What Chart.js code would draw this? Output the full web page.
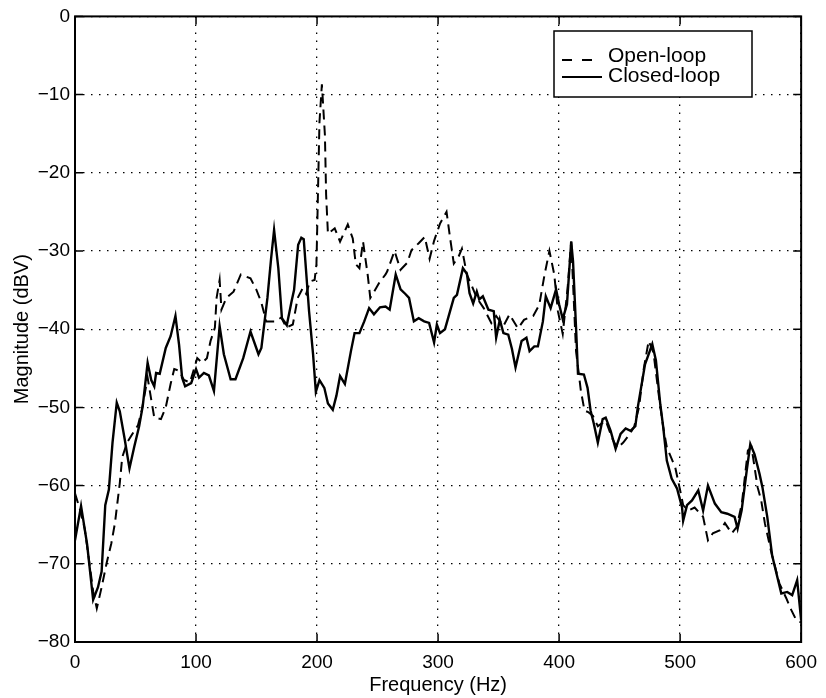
<!DOCTYPE html>
<html>
<head>
<meta charset="utf-8">
<script src="https://cdn.jsdelivr.net/npm/chart.js@4.4.1/dist/chart.umd.min.js"></script>
<style>
  html, body { margin: 0; padding: 0; background: #fff; }
  #wrap { width: 826px; height: 698px; }
</style>
</head>
<body>
<div id="wrap"><canvas id="c" width="826" height="698"></canvas></div>
<script>
// ---- data ----
const seriesLabels = ['Open-loop', 'Closed-loop'];
const xTicks = [0, 100, 200, 300, 400, 500, 600];
const yTicks = [0, -10, -20, -30, -40, -50, -60, -70, -80];

const openFreq = [
  0, 4, 8, 12, 15, 18, 22, 26, 30, 33,
  37, 39, 43, 49, 52, 55, 57, 60, 63, 65.5,
  71, 75, 79, 82, 86, 90, 95, 101, 105, 109,
  112, 115.6, 117, 119.5, 121, 125, 131, 137, 145, 150,
  154, 158, 165.5, 170.5, 174.6, 180, 184, 188, 191, 194,
  198, 199.5, 201, 202, 204, 206.5, 207.5, 209, 214.6, 219,
  225.4, 229.5, 232, 235, 238, 241.8, 244, 246, 251.6, 256.6,
  258, 264, 269, 274.6, 278, 284, 289, 293, 296.7, 301.6,
  307, 310, 313, 317, 319.7, 323.8, 328, 332, 337.7, 344,
  348, 354, 359, 366, 371, 378.6, 383.6, 388, 392, 396,
  399, 403, 407, 410, 414, 418, 421, 424, 428, 432,
  438.5, 444, 448, 453, 458, 462, 466, 470, 474, 478,
  482, 486, 489, 496, 500, 502.5, 506.6, 512, 519, 523,
  527, 533, 537, 542.6, 546.7, 551, 556, 559, 564, 567,
  570, 575, 582, 587.7, 591.8, 596, 600
];
const openMag = [
  -61, -63, -65.5, -70, -73.5, -75.7, -73, -70, -67.4, -64.8,
  -59.7, -56.4, -54.5, -53, -52.3, -50.5, -48.8, -46.2, -49, -51.3,
  -51.5, -50, -47, -45.1, -45.3, -46.5, -46.8, -43.7, -44.3, -43.7,
  -41.5, -39.8, -36, -33.7, -37.5, -36, -35.2, -33, -33.5, -35,
  -36.6, -39, -39, -38.5, -39.8, -39.4, -36, -34.8, -35.5, -33.9,
  -33.7, -31.7, -20.8, -13.5, -8.7, -15.2, -22.8, -27.8, -27.1, -28.8,
  -26.6, -28.4, -31.7, -32.2, -28.8, -33, -36, -35.5, -34, -33,
  -32.6, -30, -32.4, -31.5, -29.9, -29, -28.2, -31, -28.7, -26.5,
  -25, -28.4, -31.6, -30.7, -29.7, -33, -34.5, -36, -37.3, -39.2,
  -38.3, -39.6, -38.1, -39.9, -38.8, -38.3, -36.9, -33, -30, -33,
  -37.7, -40.6, -34.8, -28.8, -42.8, -47.9, -50.4, -50.6, -51.1, -52.4,
  -51.7, -54, -55.2, -54.5, -53.5, -52.5, -50, -45, -41.5, -43,
  -48, -52.5, -55.1, -57.7, -60.6, -62.5, -63.2, -62.8, -64, -67,
  -66.1, -65.7, -64.8, -66.1, -65.3, -62.3, -55.5, -55.1, -60.2, -61.9,
  -64.8, -68.3, -72.5, -74.4, -75.9, -77.2, -77.5
];

const closedFreq = [
  0, 5, 10, 15, 19, 22, 25, 28, 31, 34.5,
  37, 41, 45, 49, 53, 56, 60, 63, 65.5, 67,
  70, 75, 79, 83, 86, 88.5, 91, 96, 100, 102.5,
  106.5, 110.6, 114.8, 119.5, 123, 128.6, 132.6, 139, 145, 151.6,
  154, 159, 162, 164.5, 168, 171, 175, 179, 181, 184.4,
  187, 189, 193.4, 196.7, 199, 202, 206, 209, 213, 216,
  219, 223, 228, 231, 235, 239, 243, 247, 252, 256.6,
  260, 265, 269, 273, 276, 280, 284, 288.5, 292.6, 296.7,
  299, 301.6, 305.7, 313, 315.6, 320.5, 323.8, 326, 329, 332,
  334, 337, 341.6, 346, 348, 351, 354, 358, 361, 364,
  369, 373, 375.6, 379.5, 382.5, 386.6, 389, 393, 397.5, 400,
  403, 406.5, 410, 411.5, 414, 415.6, 420.5, 423.5, 426, 428.7,
  432, 436, 438.5, 442.6, 446.7, 450.8, 455, 459, 463, 465,
  471, 477, 480, 483.6, 486, 489, 493, 497.5, 501.6, 502.5,
  505.7, 509.8, 515, 519, 523, 528.7, 534, 539, 545, 547.5,
  550.8, 555, 558, 561.5, 565.6, 568, 572, 576, 583.6, 588.5,
  592.6, 596.7, 600
];
const closedMag = [
  -67, -62.6, -67.5, -74.6, -73, -71, -62.5, -60.5, -54.5, -49.4,
  -50.5, -54, -57.8, -55, -52.4, -49.8, -44.3, -46.5, -47.3, -45.6,
  -45.7, -42.4, -40.9, -38.3, -42, -46.2, -47.3, -46.9, -45.1, -46.2,
  -45.6, -45.9, -47.9, -39.6, -43.2, -46.4, -46.4, -43.7, -40.3, -43.2,
  -42.4, -36, -31, -27.3, -32.2, -38.6, -39.5, -36.4, -35, -29.2,
  -28.3, -28.5, -37.7, -43.2, -48, -46.5, -47.5, -49.5, -50.3, -48.5,
  -46, -47, -42.8, -40.5, -40.5, -39, -37.3, -38.1, -37.2, -37.1,
  -37.5, -33, -34.9, -35.5, -36, -39, -38.6, -39, -39.2, -41.7,
  -39.4, -40.5, -40, -36, -35.6, -32.2, -32.9, -35.4, -36.7, -35.2,
  -36.2, -35.8, -37.5, -37.7, -41.1, -38.8, -40.5, -40.7, -42.5, -44.9,
  -41.5, -41.1, -42.8, -42.2, -42.2, -39, -35.8, -37.3, -34.9, -36.8,
  -38.7, -36.8, -28.8, -31.3, -39.8, -45.7, -45.8, -47.5, -50.4, -52.1,
  -54.5, -51.5, -51.3, -53, -55.3, -53.4, -52.7, -53, -52.4, -50,
  -44.5, -41.9, -44, -49.6, -52.5, -56.8, -59.1, -60.4, -62.8, -64.5,
  -62.5, -61.9, -60.6, -63.2, -60, -62.3, -63.4, -63.6, -64, -65.5,
  -63.2, -58.1, -54.7, -56, -58.5, -60.2, -64, -68.9, -73.8, -73.6,
  -74, -72.1, -77.2
];

// ---- styling ----
const FONT = '"Liberation Sans", Arial, Helvetica, sans-serif';
const toPts = (xs, ys) => xs.map((x, i) => ({ x: x, y: ys[i] }));

const framePlugin = {
  id: 'framePlugin',
  afterDatasetsDraw(chart) {
    const { ctx, chartArea: a, scales } = chart;
    ctx.save();
    ctx.strokeStyle = '#000';
    ctx.lineWidth = 2;
    ctx.strokeRect(a.left, a.top, a.right - a.left, a.bottom - a.top);
    const tl = 8;
    ctx.lineWidth = 1.5;
    ctx.beginPath();
    xTicks.forEach(v => {
      const px = scales.x.getPixelForValue(v);
      ctx.moveTo(px, a.bottom); ctx.lineTo(px, a.bottom - tl);
      ctx.moveTo(px, a.top); ctx.lineTo(px, a.top + tl);
    });
    yTicks.forEach(v => {
      const py = scales.y.getPixelForValue(v);
      ctx.moveTo(a.left, py); ctx.lineTo(a.left + tl, py);
      ctx.moveTo(a.right, py); ctx.lineTo(a.right - tl, py);
    });
    ctx.stroke();

    // legend box
    const bx = 554, by = 31, bw = 198, bh = 66;
    ctx.fillStyle = '#fff';
    ctx.fillRect(bx, by, bw, bh);
    ctx.lineWidth = 1.5;
    ctx.strokeRect(bx, by, bw, bh);
    const rows = [
      { ty: 56, ly: 60, dash: [10, 10], w: 2 },
      { ty: 76, ly: 77, dash: [], w: 2.2 }
    ];
    ctx.font = '21px ' + FONT;
    ctx.textBaseline = 'middle';
    ctx.textAlign = 'left';
    ctx.fillStyle = '#000';
    rows.forEach((r, i) => {
      ctx.beginPath();
      ctx.setLineDash(r.dash);
      ctx.lineWidth = r.w;
      ctx.moveTo(562, r.ly); ctx.lineTo(602, r.ly);
      ctx.stroke();
      ctx.setLineDash([]);
      ctx.fillText(chart.data.datasets[i].label, 608, r.ty);
    });
    ctx.restore();
  }
};

const fmt = v => (v < 0 ? '\u2212' + Math.abs(v) : String(v));

new Chart(document.getElementById('c'), {
  type: 'line',
  data: {
    datasets: [
      {
        label: seriesLabels[0],
        data: toPts(openFreq, openMag),
        borderColor: '#000',
        borderWidth: 2,
        borderDash: [10, 6],
        pointRadius: 0,
        tension: 0,
        fill: false
      },
      {
        label: seriesLabels[1],
        data: toPts(closedFreq, closedMag),
        borderColor: '#000',
        borderWidth: 2.4,
        pointRadius: 0,
        tension: 0,
        fill: false
      }
    ]
  },
  options: {
    responsive: false,
    animation: false,
    events: [],
    layout: { padding: { top: 14, right: 18, left: 0, bottom: 0 } },
    plugins: { legend: { display: false }, tooltip: { enabled: false } },
    scales: {
      x: {
        type: 'linear',
        min: 0, max: 600,
        afterFit: s => { s.height = 56; },
        afterBuildTicks: s => { s.ticks = xTicks.map(v => ({ value: v })); },
        ticks: { color: '#000', padding: 9, font: { family: FONT, size: 19 }, maxRotation: 0, autoSkip: false },
        grid: { color: '#000', lineWidth: 1.3, drawTicks: false },
        border: { display: false, dash: [1.5, 6.5] },
        title: { display: true, text: 'Frequency (Hz)', color: '#000', font: { family: FONT, size: 20 }, padding: { top: 0, bottom: 1 } }
      },
      y: {
        type: 'linear',
        min: -80, max: 0,
        afterFit: s => { s.width = 75; },
        afterBuildTicks: s => { s.ticks = yTicks.map(v => ({ value: v })); },
        ticks: { color: '#000', padding: 5, font: { family: FONT, size: 19 }, callback: fmt, autoSkip: false },
        grid: { color: '#000', lineWidth: 1.3, drawTicks: false },
        border: { display: false, dash: [1.5, 6.5] },
        title: { display: true, text: 'Magnitude (dBV)', color: '#000', font: { family: FONT, size: 20 }, padding: { top: 10, bottom: 0 } }
      }
    }
  },
  plugins: [framePlugin]
});
</script>
</body>
</html>
